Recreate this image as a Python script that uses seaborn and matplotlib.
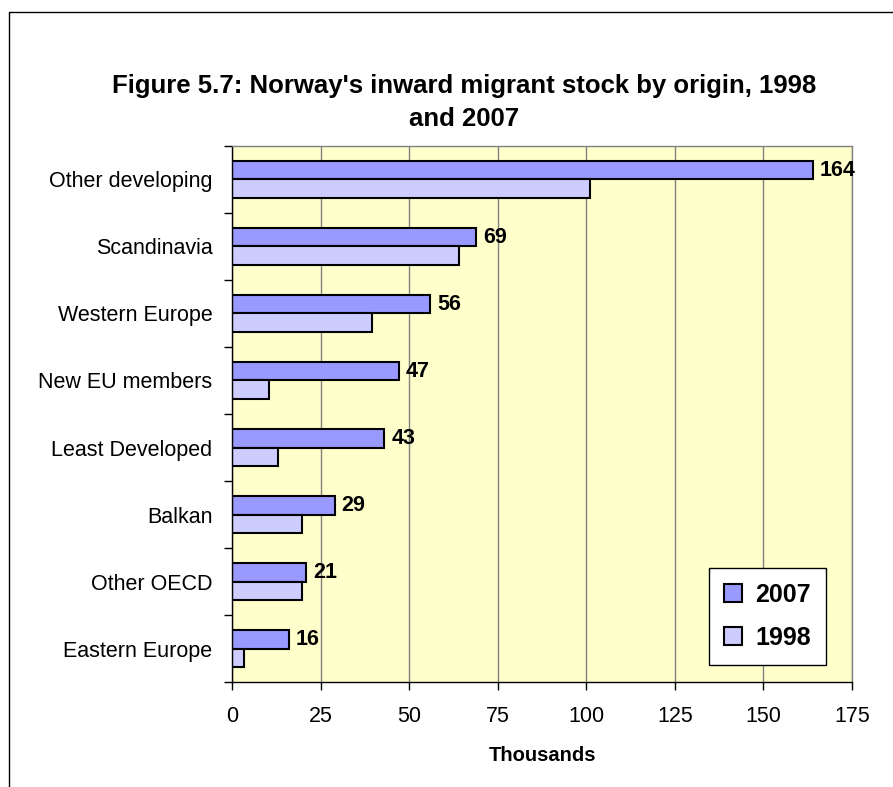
import matplotlib
matplotlib.use("Agg")
import matplotlib.pyplot as plt
import seaborn as sns
import pandas as pd
from matplotlib.lines import Line2D
from matplotlib.ticker import MultipleLocator

# values (thousands)
regions = ["Other developing", "Scandinavia", "Western Europe", "New EU members",
           "Least Developed", "Balkan", "Other OECD", "Eastern Europe"]
stock_2007 = [164, 69, 56, 47, 43, 29, 21, 16]
stock_1998 = [101, 64, 39.5, 10.5, 13, 19.7, 19.7, 3.5]
years = ["2007", "1998"]
colors = ["#9999FF", "#CCCCFF"]

df = pd.DataFrame({
    "region": regions * 2,
    "value": stock_2007 + stock_1998,
    "year": [years[0]] * len(regions) + [years[1]] * len(regions),
})

sns.set_style("white")
plt.rcParams["font.family"] = ["Liberation Sans", "DejaVu Sans"]
plt.rcParams["text.color"] = "black"
plt.rcParams["xtick.color"] = "black"
plt.rcParams["ytick.color"] = "black"
plt.rcParams["axes.labelcolor"] = "black"

fig = plt.figure(figsize=(8.93, 7.87), dpi=100)
ax = fig.add_axes([0.2598, 0.1334, 0.6943, 0.6811])
ax.set_facecolor("#FFFFCC")

sns.barplot(data=df, y="region", x="value", hue="year", hue_order=years,
            order=regions, palette=colors, orient="h", width=0.56, saturation=1,
            edgecolor="black", linewidth=1.5, ax=ax, legend=True)

# labels only on the 2007 bars
ax.bar_label(ax.containers[0], fmt="%.0f", padding=5, fontsize=15.5,
             fontweight="bold", color="black")

ax.set_xlim(0, 175)
ax.set_ylim(len(regions) - 0.5, -0.5)
ax.xaxis.set_major_locator(MultipleLocator(25))
ax.set_yticks(range(len(regions)))
ax.set_yticks([i - 0.5 for i in range(len(regions) + 1)], minor=True)
ax.tick_params(axis="y", which="major", length=0, labelsize=15.5, pad=14)
ax.tick_params(axis="y", which="minor", length=6, width=1, color="black",
               direction="out", left=True)
ax.tick_params(axis="x", length=6, width=1, color="black", direction="out",
               labelsize=15.5, pad=11, bottom=True)
ax.grid(axis="x", color="#808080", linewidth=1)
ax.set_axisbelow(True)
ax.set_ylabel("")
ax.set_xlabel("Thousands", fontsize=14.5, fontweight="bold", labelpad=14)

for side in ["left", "bottom"]:
    ax.spines[side].set_color("black")
    ax.spines[side].set_linewidth(1)
for side in ["top", "right"]:
    ax.spines[side].set_visible(True)
    ax.spines[side].set_color("#808080")
    ax.spines[side].set_linewidth(1)

handles, labels = ax.get_legend_handles_labels()
ax.legend(handles, labels, loc="center", bbox_to_anchor=(0.792, 0.156, 0.135, 0.122),
          bbox_transform=fig.transFigure, frameon=True,
          fancybox=False, edgecolor="black", framealpha=1, facecolor="white",
          prop={"size": 18, "weight": "bold"}, handlelength=0.7, handleheight=0.7,
          handletextpad=0.55, labelspacing=0.75, borderpad=0.6, borderaxespad=0)
ax.get_legend().get_frame().set_linewidth(1)

fig.text(0.52, 0.870, "Figure 5.7: Norway's inward migrant stock by origin, 1998\nand 2007",
         ha="center", va="center", fontsize=18.5, fontweight="bold", linespacing=1.5)

# outer chart border (top and left visible)
fig.add_artist(Line2D([9 / 893, 9 / 893, 1.0], [0.0, 1 - 12 / 787, 1 - 12 / 787],
                      transform=fig.transFigure, color="black", linewidth=1))

fig.savefig("out.png", dpi=100, facecolor="white")
